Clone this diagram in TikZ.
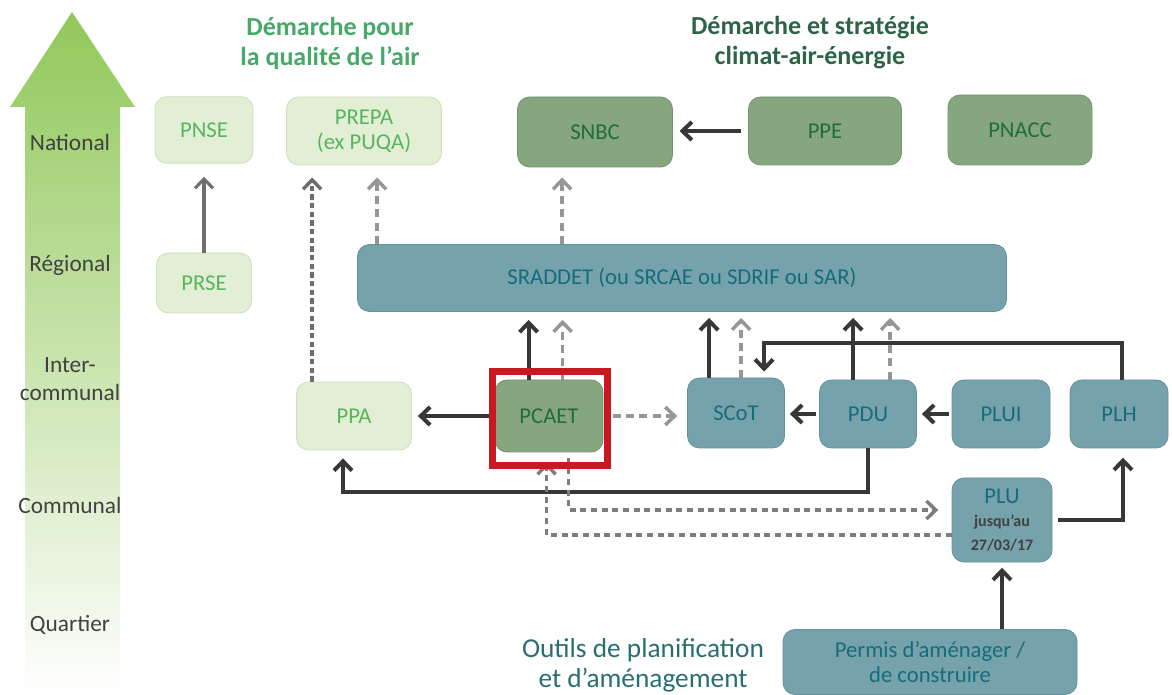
\documentclass[tikz,border=0pt]{standalone}
\usepackage{fontspec}
\setmainfont{Carlito}
\usetikzlibrary{arrows.meta}

\definecolor{lgFill}{RGB}{226,239,213}
\definecolor{lgText}{RGB}{90,180,95}
\definecolor{mgFill}{RGB}{133,166,126}
\definecolor{mgLine}{RGB}{115,148,110}
\definecolor{mgText}{RGB}{35,110,55}
\definecolor{tlFill}{RGB}{118,162,172}
\definecolor{tlLine}{RGB}{100,145,155}
\definecolor{tlText}{RGB}{22,108,122}
\definecolor{lnDark}{RGB}{55,55,55}
\definecolor{lnMid}{RGB}{110,110,110}
\definecolor{lnGray}{RGB}{150,150,150}
\definecolor{lnDash}{RGB}{125,125,125}
\definecolor{lvText}{RGB}{65,65,65}
\definecolor{ttlLight}{RGB}{70,168,105}
\definecolor{ttlDark}{RGB}{45,100,70}
\definecolor{ttlTeal}{RGB}{40,110,115}
\definecolor{frameRed}{RGB}{200,25,35}
\definecolor{arrowTop}{RGB}{145,200,90}
\definecolor{arrowMid}{RGB}{198,229,168}

\newcommand\smalldark[1]{{\fontsize{12}{14}\selectfont\bfseries\color{lvText}#1}}

\begin{document}
\begin{tikzpicture}[x=0.75pt, y=-0.75pt,
  every node/.style={font=\fontsize{17}{19}\selectfont},
  box/.style={rounded corners=9pt, inner sep=0pt, align=center, line width=0.6pt},
  lightbox/.style={box, fill=lgFill, draw=lgFill!92!black, text=lgText},
  greenbox/.style={box, fill=mgFill, draw=mgLine, text=mgText},
  tealbox/.style={box, fill=tlFill, draw=tlLine, text=tlText},
  level/.style={text=lvText, align=center, font=\fontsize{17.5}{20}\selectfont},
  heading/.style={align=center, font=\fontsize{19.5}{22.5}\selectfont\bfseries},
  link/.style={draw=lnDark, line width=3pt, -{Straight Barb[length=7pt,width=13.5pt]}},
  dlink/.style={draw=lnGray, line width=2.6pt, dash pattern=on 6pt off 4pt,
    -{Straight Barb[length=7pt,width=13.5pt]}},
]
\useasboundingbox (0,0) rectangle (1172,695);

% level arrow
\shade[top color=arrowTop, middle color=arrowMid, bottom color=white]
  (25,695) -- (25,107) -- (10,107) -- (72,12) -- (135,107) -- (120,107) -- (120,695) -- cycle;
\node[level] (lvNat) at (70,142) {National};
\node[level] (lvReg) at (70,265) {Régional};
\node[level, font=\fontsize{17.5}{20.5}\selectfont] (lvInter) at (70,379) {Inter-\\communal};
\node[level] (lvCom) at (70,505) {Communal};
\node[level] (lvQua) at (70,625) {Quartier};

% headings
\node[heading, text=ttlLight] (hdAir) at (330,43) {Démarche pour\\la qualité de l’air};
\node[heading, text=ttlDark] (hdClim) at (810,43) {Démarche et stratégie\\climat-air-énergie};
\node[align=center, text=ttlTeal, font=\fontsize{20.5}{22.5}\selectfont] (hdOut) at (643,665)
  {Outils de planification\\et d’aménagement};

% national
\node[lightbox, minimum width=73.5pt, minimum height=50pt] (PNSE) at (204,130) {PNSE};
\node[lightbox, minimum width=116.25pt, minimum height=51pt] (PREPA) at (364,131) {PREPA\\(ex PUQA)};
\node[greenbox, minimum width=116.25pt, minimum height=52.5pt] (SNBC) at (595,132) {SNBC};
\node[greenbox, minimum width=114.75pt, minimum height=51pt] (PPE) at (825,131) {PPE};
\node[greenbox, minimum width=108pt, minimum height=52.5pt] (PNACC) at (1020,130) {PNACC};

% regional
\node[lightbox, minimum width=71.25pt, minimum height=45pt] (PRSE) at (204,283) {PRSE};
\node[tealbox, minimum width=486.75pt, minimum height=50.25pt] (SRADDET) at (682,278)
  {SRADDET (ou SRCAE ou SDRIF ou SAR)};

% intercommunal
\node[lightbox, minimum width=86.25pt, minimum height=51pt] (PPA) at (354,416) {PPA};
\node[greenbox, minimum width=81pt, minimum height=54pt] (PCAET) at (549,416) {PCAET};
\node[tealbox, minimum width=72.75pt, minimum height=52.5pt] (SCoT) at (736,413) {SCoT};
\node[tealbox, minimum width=72.75pt, minimum height=51pt] (PDU) at (868,414) {PDU};
\node[tealbox, minimum width=73.5pt, minimum height=51pt] (PLUI) at (1001,414) {PLUI};
\node[tealbox, minimum width=73.5pt, minimum height=51pt] (PLH) at (1119,414) {PLH};

% communal and quartier
\node[tealbox, minimum width=75pt, minimum height=63pt] (PLU) at (1002,520)
  {PLU\\[-2pt]\smalldark{jusqu’au}\\[-1pt]\smalldark{27/03/17}};
\node[tealbox, minimum width=220.5pt, minimum height=48.75pt] (Permis) at (930,662)
  {Permis d’aménager /\\de construire};

% air quality links
\draw[link, draw=lnMid, line width=2.3pt, shorten >=9.75pt] (PRSE.north) -- (PRSE.north |- PNSE.south);
\draw[dlink, draw=lnMid, dash pattern=on 4pt off 2.5pt, shorten >=9pt]
  ([xshift=12pt]PPA.north west) -- ([xshift=12pt]PPA.north west |- PREPA.south);
\draw[dlink, shorten >=9pt] ([xshift=15pt]SRADDET.north west) -- ([xshift=15pt]SRADDET.north west |- PREPA.south);
\draw[dlink, shorten >=7.5pt] ([xshift=33.75pt]SNBC.south west |- SRADDET.north) -- ([xshift=33.75pt]SNBC.south west);
\draw[link, shorten <=5pt, shorten >=5pt] (PPE.west) -- (PPE.west -| SNBC.east);

% up to SRADDET
\draw[link, shorten >=6pt] ([xshift=25.5pt]PCAET.north west) -- ([xshift=25.5pt]PCAET.north west |- SRADDET.south);
\draw[dlink, shorten >=6pt] ([xshift=51pt]PCAET.north west) -- ([xshift=51pt]PCAET.north west |- SRADDET.south);
\draw[link, shorten >=4.5pt] ([xshift=16.5pt]SCoT.north west) -- ([xshift=16.5pt]SCoT.north west |- SRADDET.south);
\draw[dlink, shorten >=4.5pt] ([xshift=40.5pt]SCoT.north west) -- ([xshift=40.5pt]SCoT.north west |- SRADDET.south);
\draw[link, shorten >=4.5pt] ([xshift=25.5pt]PDU.north west) -- ([xshift=25.5pt]PDU.north west |- SRADDET.south);
\draw[dlink, shorten >=4.5pt] ([xshift=53.25pt]PDU.north west) -- ([xshift=53.25pt]PDU.north west |- SRADDET.south);

% intercommunal links
\draw[link, shorten >=4.5pt] (PCAET.west) -- (PCAET.west -| PPA.east);
\draw[dlink, shorten <=7pt, shorten >=7.5pt] (PCAET.east) -- (PCAET.east -| SCoT.west);
\draw[link, shorten <=2pt, shorten >=3.75pt] (PDU.west) -- (PDU.west -| SCoT.east);
\draw[link, shorten <=2pt, shorten >=3.75pt] (PLUI.west) -- (PLUI.west -| PDU.east);
\draw[link, shorten >=4.5pt] ([xshift=2pt]PLH.north) -- ++(0,-37) -| ([xshift=57.75pt]SCoT.north west);
\draw[link, shorten >=6pt] (PDU.south) -- ++(0,44) -| ([xshift=-8.25pt]PPA.south);

% links with PLU
\draw[dlink, draw=lnDash, dash pattern=on 4.5pt off 3.5pt, shorten <=4pt, shorten >=10pt]
  ([xshift=55.5pt]PCAET.south west) |- ([yshift=7.5pt]PLU.west);
\draw[dlink, draw=lnDash, dash pattern=on 4.5pt off 3.5pt, shorten >=7.5pt]
  ([yshift=-11.25pt]PLU.west) -| ([xshift=39pt]PCAET.south west);
\draw[link, shorten <=4pt, shorten >=7pt] (PLU.east) -| ([xshift=3pt]PLH.south);
\draw[link, shorten >=4pt] (Permis.north -| PLU.south) -- (PLU.south);

% highlight
\draw[frameRed, line width=5.25pt] ([shift={(-1.9pt,6.4pt)}]PCAET.north west)
  rectangle ([shift={(3.4pt,-10.1pt)}]PCAET.south east);
\end{tikzpicture}
\end{document}
